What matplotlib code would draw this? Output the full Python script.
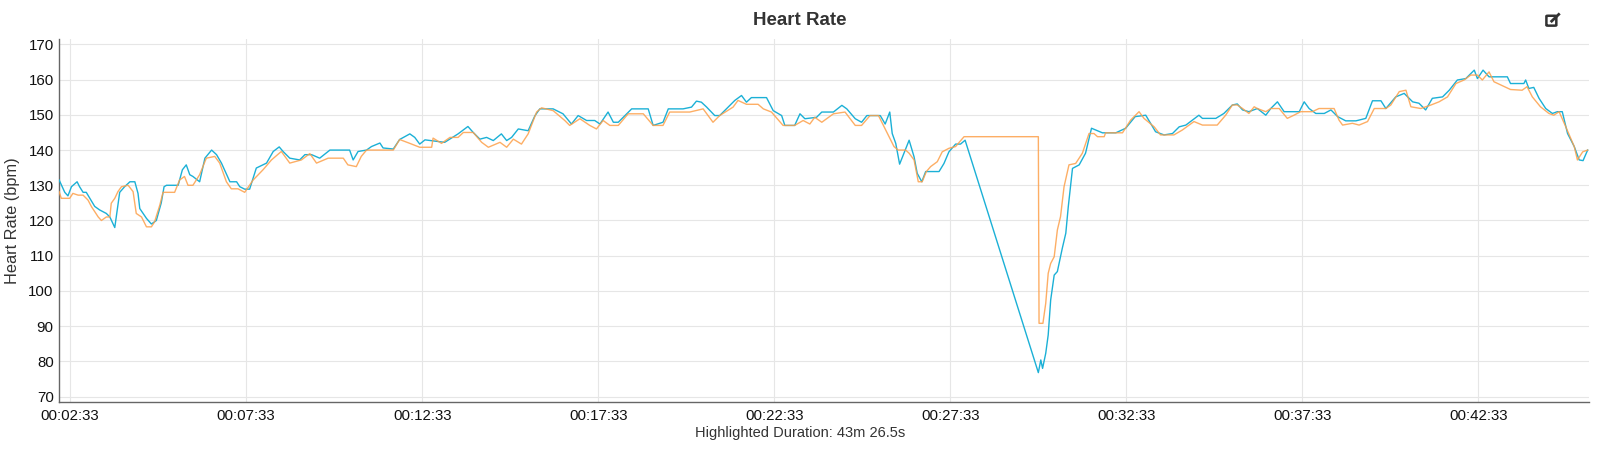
import matplotlib.pyplot as plt
from matplotlib.ticker import FuncFormatter, MultipleLocator
from matplotlib.lines import Line2D
from matplotlib.patches import FancyBboxPatch

plt.rcParams['font.family'] = ['Liberation Sans', 'DejaVu Sans']

# elapsed time in minutes, heart rate in bpm
blue_t = [2.24, 2.40, 2.49, 2.59, 2.75, 2.82, 2.92, 3.01, 3.25, 3.39, 3.58, 3.68, 3.82, 3.96,
          4.10, 4.25, 4.39, 4.48, 4.53, 4.72, 4.86, 5.00, 5.14, 5.22, 5.29, 5.62, 5.74, 5.85,
          5.95, 6.04, 6.23, 6.38, 6.57, 6.71, 6.85, 7.09, 7.28, 7.37, 7.51, 7.65, 7.84, 8.13,
          8.32, 8.49, 8.60, 8.79, 9.07, 9.22, 9.41, 9.64, 9.93, 10.49, 10.59, 10.73, 10.97,
          11.11, 11.35, 11.44, 11.73, 11.91, 12.20, 12.34, 12.48, 12.63, 13.19, 13.57, 13.85,
          14.00, 14.19, 14.38, 14.57, 14.80, 14.95, 15.09, 15.28, 15.56, 15.75, 15.89, 16.27,
          16.55, 16.79, 16.98, 17.22, 17.45, 17.60, 17.83, 17.98, 18.12, 18.26, 18.50, 18.97,
          19.11, 19.39, 19.54, 19.96, 20.20, 20.34, 20.48, 20.63, 20.86, 21.00, 21.19, 21.43,
          21.62, 21.76, 21.90, 22.33, 22.52, 22.76, 22.85, 23.13, 23.28, 23.42, 23.75, 23.90,
          24.23, 24.47, 24.61, 24.85, 25.03, 25.18, 25.56, 25.70, 25.83, 25.90, 26.00, 26.11,
          26.38, 26.52, 26.61, 26.74, 26.85, 27.23, 27.37, 27.51, 27.70, 27.84, 27.97, 30.05,
          30.12, 30.17, 30.26, 30.33, 30.40, 30.50, 30.59, 30.73, 30.83, 30.90, 31.02, 31.21,
          31.39, 31.56, 31.68, 31.87, 32.25, 32.53, 32.80, 33.10, 33.38, 33.62, 33.86, 34.05,
          34.24, 34.61, 34.71, 35.09, 35.32, 35.56, 35.70, 35.85, 36.03, 36.27, 36.51, 36.65,
          36.84, 37.03, 37.46, 37.60, 37.74, 37.93, 38.17, 38.36, 38.55, 38.78, 39.07, 39.35,
          39.54, 39.78, 39.92, 40.20, 40.44, 40.68, 40.86, 41.05, 41.24, 41.53, 41.72, 41.95,
          42.19, 42.43, 42.52, 42.68, 42.85, 43.37, 43.46, 43.84, 43.89, 43.98, 44.12, 44.27,
          44.46, 44.65, 44.79, 44.93, 45.08, 45.27, 45.41, 45.52, 45.65]
blue_hr = [131.5, 128.0, 127.0, 129.6, 131.0, 129.6, 128.0, 128.0, 124.0, 123.0, 122.0, 121.0,
           118.0, 128.0, 129.6, 131.0, 131.0, 127.7, 123.4, 120.6, 119.0, 120.0, 125.0, 129.6,
           130.0, 130.0, 134.4, 135.8, 133.0, 132.5, 131.0, 137.7, 140.0, 138.7, 136.3, 131.0,
           131.0, 129.6, 128.9, 128.9, 134.9, 136.3, 139.6, 140.9, 139.6, 137.7, 137.2, 138.7,
           138.7, 137.7, 140.0, 140.0, 137.2, 139.6, 140.0, 141.0, 142.0, 140.6, 140.3, 143.0,
           144.6, 143.6, 141.7, 142.9, 142.2, 144.6, 146.7, 145.0, 143.1, 143.6, 142.7, 144.6,
           142.7, 143.6, 146.0, 145.5, 149.7, 151.7, 151.7, 150.3, 147.4, 149.8, 148.4, 148.4,
           147.4, 150.8, 147.9, 147.9, 149.3, 151.7, 151.7, 147.0, 147.9, 151.7, 151.7, 152.2,
           153.9, 153.6, 152.2, 149.8, 149.8, 151.7, 154.1, 155.5, 153.6, 154.9, 154.9, 151.2,
           149.8, 147.0, 147.0, 150.3, 148.9, 149.3, 150.8, 150.8, 152.7, 151.7, 148.9, 147.9,
           149.8, 149.8, 147.4, 150.8, 144.7, 141.9, 136.0, 142.8, 138.1, 133.4, 131.0, 133.9,
           133.9, 136.2, 139.5, 141.7, 141.7, 142.8, 76.8, 80.4, 78.0, 82.3, 87.5, 97.4, 104.5,
           105.5, 112.1, 116.4, 123.9, 134.8, 135.8, 139.1, 146.2, 145.7, 144.9, 144.9, 146.2,
           149.5, 149.9, 145.2, 144.3, 144.7, 146.6, 147.1, 149.9, 149.0, 149.0, 150.4, 152.8,
           153.1, 151.4, 150.9, 151.8, 149.9, 151.8, 153.7, 150.9, 150.9, 153.7, 151.8, 150.4,
           150.4, 151.4, 149.5, 148.3, 148.3, 149.0, 154.0, 154.0, 151.8, 155.1, 156.1, 153.7,
           153.3, 151.4, 154.7, 155.1, 157.0, 159.9, 160.3, 162.7, 160.3, 162.7, 160.8, 160.8,
           158.9, 158.9, 159.9, 157.5, 157.8, 154.7, 151.8, 150.4, 150.9, 150.9, 144.7, 141.0,
           137.2, 137.0, 140.0]

orange_t = [2.24, 2.30, 2.54, 2.63, 2.78, 2.92, 3.06, 3.16, 3.35, 3.44, 3.58, 3.68, 3.72, 3.82,
            3.91, 4.01, 4.20, 4.34, 4.43, 4.58, 4.72, 4.86, 4.95, 5.10, 5.19, 5.52, 5.66, 5.80,
            5.90, 6.04, 6.23, 6.42, 6.66, 6.80, 6.99, 7.13, 7.32, 7.51, 7.75, 8.03, 8.27, 8.55,
            8.79, 9.12, 9.36, 9.55, 9.88, 10.31, 10.44, 10.68, 10.82, 10.97, 11.73, 11.91, 12.20,
            12.48, 12.82, 12.86, 13.10, 13.34, 13.57, 13.72, 14.00, 14.24, 14.43, 14.76, 14.95,
            15.14, 15.37, 15.56, 15.80, 15.94, 16.27, 16.60, 16.74, 17.03, 17.31, 17.50, 17.69,
            17.88, 18.12, 18.40, 18.83, 19.11, 19.39, 19.58, 20.15, 20.53, 20.81, 21.00, 21.38,
            21.52, 21.76, 22.09, 22.24, 22.47, 22.80, 23.13, 23.37, 23.56, 23.70, 23.90, 24.23,
            24.56, 24.85, 25.03, 25.27, 25.51, 25.65, 25.86, 25.95, 26.07, 26.28, 26.38, 26.52,
            26.64, 26.75, 26.87, 26.99, 27.18, 27.32, 27.51, 27.70, 27.94, 30.05, 30.07, 30.18,
            30.26, 30.33, 30.40, 30.50, 30.59, 30.68, 30.78, 30.92, 31.11, 31.30, 31.49, 31.63,
            31.73, 31.92, 31.96, 32.44, 32.67, 32.91, 33.05, 33.34, 33.52, 33.90, 34.14, 34.47,
            34.71, 35.13, 35.37, 35.56, 35.70, 35.85, 36.03, 36.18, 36.27, 36.51, 36.65, 36.89,
            37.12, 37.31, 37.50, 37.83, 38.02, 38.45, 38.59, 38.69, 38.97, 39.16, 39.40, 39.59,
            39.92, 40.06, 40.30, 40.49, 40.63, 40.91, 41.20, 41.43, 41.67, 41.91, 42.14, 42.33,
            42.52, 42.66, 42.85, 42.99, 43.18, 43.46, 43.79, 43.93, 44.08, 44.31, 44.55, 44.69,
            44.84, 45.03, 45.27, 45.36, 45.51, 45.65]
orange_hr = [128.2, 126.3, 126.3, 127.7, 127.2, 127.2, 125.8, 123.9, 121.0, 120.0, 121.0, 121.0,
             124.9, 126.3, 128.2, 129.6, 130.0, 128.2, 122.0, 121.0, 118.2, 118.2, 119.6, 124.4,
             128.0, 128.0, 131.5, 132.5, 130.0, 130.0, 133.0, 137.7, 138.2, 136.3, 131.0, 129.0,
             129.0, 128.0, 131.5, 134.4, 137.2, 139.6, 136.3, 137.2, 139.0, 136.3, 137.7, 137.7,
             135.8, 135.3, 138.2, 140.0, 140.0, 143.0, 141.9, 140.8, 140.8, 143.4, 141.9, 143.6,
             143.6, 145.0, 145.0, 142.2, 140.8, 142.2, 140.8, 143.1, 141.7, 144.6, 150.8, 152.0,
             151.2, 148.4, 147.0, 148.9, 147.0, 146.0, 148.4, 147.0, 147.0, 150.3, 150.3, 147.0,
             147.0, 150.8, 150.8, 151.7, 147.9, 149.8, 152.2, 154.1, 153.0, 153.0, 151.7, 150.8,
             147.0, 147.0, 148.4, 147.4, 149.3, 147.9, 150.3, 150.8, 147.0, 147.0, 149.8, 149.8,
             147.0, 142.8, 141.0, 140.0, 140.0, 139.1, 137.2, 131.0, 131.0, 133.9, 135.3, 136.7,
             139.5, 140.5, 141.0, 143.8, 143.8, 90.8, 90.8, 96.5, 105.0, 107.8, 109.7, 117.3,
             121.1, 129.6, 135.8, 136.2, 139.1, 144.7, 144.7, 143.8, 143.8, 144.9, 144.9, 148.5,
             150.9, 149.0, 146.6, 144.3, 144.3, 145.7, 148.1, 147.1, 147.1, 149.9, 152.8, 152.8,
             151.8, 150.4, 152.3, 151.8, 150.9, 151.8, 151.8, 149.0, 149.9, 150.9, 150.9, 151.8,
             151.8, 148.5, 147.1, 147.6, 147.1, 148.1, 151.8, 151.8, 152.8, 156.6, 157.0, 152.3,
             151.8, 152.8, 153.7, 155.1, 158.9, 159.9, 161.3, 161.3, 159.9, 162.2, 159.4, 158.5,
             157.2, 157.0, 158.0, 155.1, 152.3, 150.4, 149.9, 150.9, 146.6, 141.0, 137.2, 139.5,
             140.0]

y_ticks = list(range(70, 171, 10))
t_start = 134.5           # seconds
duration = 2606.5         # 43m 26.5s
first_tick = 153          # 00:02:33

fig = plt.figure(figsize=(16, 4.5), dpi=100)
ax = fig.add_axes([0.037, 0.107, 0.956, 0.806])

ax.plot([t * 60 for t in blue_t], blue_hr, color='#1bb0d6', lw=1.0, zorder=3)
ax.plot([t * 60 for t in orange_t], orange_hr, color='#fda04a', lw=1.0, alpha=0.85, zorder=4)

ax.set_xlim(t_start, t_start + duration)
ax.set_ylim(68.5, 171.5)
ax.set_yticks(y_ticks)
ax.xaxis.set_major_locator(MultipleLocator(300, offset=first_tick))


def hms(x, pos):
    s = int(round(x))
    return f"{s // 3600:02d}:{(s % 3600) // 60:02d}:{s % 60:02d}"


ax.xaxis.set_major_formatter(FuncFormatter(hms))
ax.grid(True, color='#e6e6e6', lw=0.8)
ax.set_axisbelow(True)
for side in ['top', 'right']:
    ax.spines[side].set_visible(False)
for side in ['left', 'bottom']:
    ax.spines[side].set_color('#666666')
    ax.spines[side].set_linewidth(1.0)
ax.tick_params(axis='both', length=0, labelsize=10.8, colors='#111111')
ax.tick_params(axis='y', pad=4)
ax.tick_params(axis='x', pad=5)
ax.set_ylabel('Heart Rate (bpm)', fontsize=11.8, color='#333333', labelpad=6)

fig.text(0.5, 0.955, 'Heart Rate', ha='center', va='center', fontsize=13.5,
         fontweight='bold', color='#333333')
fig.text(0.5, 0.038, 'Highlighted Duration: 43m 26.5s', ha='center', va='center',
         fontsize=10.5, color='#333333')

# little edit icon, top right
fig.patches.append(FancyBboxPatch((0.9665, 0.943), 0.0062, 0.022, boxstyle='round,pad=0,rounding_size=0.001',
                                  transform=fig.transFigure, fill=False, ec='#333333', lw=1.8))
fig.lines.append(Line2D([0.9698, 0.9742], [0.953, 0.968], transform=fig.transFigure,
                        color='#333333', lw=2.0))

fig.savefig('out.png')
